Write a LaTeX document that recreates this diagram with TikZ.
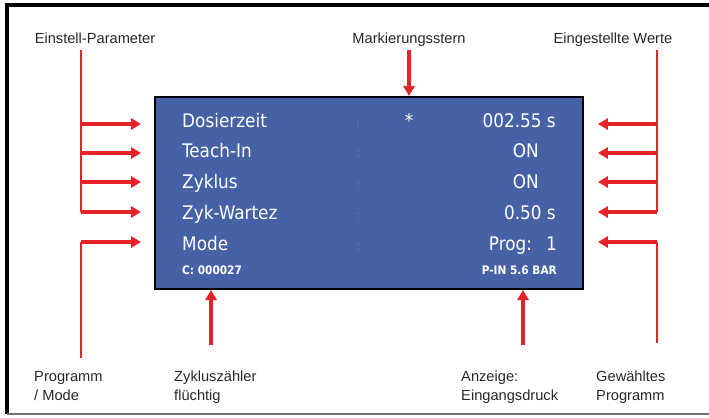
\documentclass[tikz,border=0pt]{standalone}
\usepackage{fontspec}
\setmainfont{Liberation Sans}
\newfontfamily\lcd{DejaVu Sans Condensed}
\usetikzlibrary{arrows.meta}
\definecolor{lcdblau}{RGB}{70,97,166}
\definecolor{pfeilrot}{RGB}{230,35,40}
\definecolor{punkt}{RGB}{100,124,186}
\definecolor{schrift}{RGB}{40,40,40}

\begin{document}
\begin{tikzpicture}[x=0.03cm, y=-0.03cm,
	lbl/.style={text=schrift, font=\fontsize{12.5}{16}\selectfont, inner sep=0pt},
	zeile/.style={text=white, font=\lcd\fontsize{16}{18}\selectfont, inner sep=0pt},
	klein/.style={text=white, font=\lcd\bfseries\fontsize{10}{12}\selectfont, inner sep=0pt},
	pkt/.style={text=punkt, font=\lcd\fontsize{11}{12}\selectfont, inner sep=0pt},
	linie/.style={draw=pfeilrot, line width=1.8pt},
	ast/.style={draw=pfeilrot, line width=2.6pt, -{Triangle[length=8.5pt, width=9.5pt]}},
	disp/.style={draw=black, line width=1.8pt, fill=lcdblau, minimum width=12.84cm, minimum height=5.76cm, inner sep=0pt}]
	\useasboundingbox (0,0) rectangle (709,417);
	% Rahmen
	\draw[line width=2.6pt] (709,5) -- (7,5) -- (7,414);
	\draw[black!55, line width=1.5pt] (7,414) -- (709,414);
	% Anzeige
	\node[disp] (disp) at (369,193) {};
	\node[zeile, anchor=base west] (dz) at (182,127) {Dosierzeit};
	\node[zeile, anchor=base west] (ti) at (182,157) {Teach-In};
	\node[zeile, anchor=base west] (zy) at (182,188) {Zyklus};
	\node[zeile, anchor=base west] (zw) at (182,219) {Zyk-Wartez};
	\node[zeile, anchor=base west] (mo) at (182,250) {Mode};
	\node[zeile, anchor=base east] (wdz) at (556,127) {002.55 s};
	\node[zeile, anchor=base east] (wti) at (539,157) {ON};
	\node[zeile, anchor=base east] (wzy) at (539,188) {ON};
	\node[zeile, anchor=base east] (wzw) at (556,219) {0.50 s};
	\node[zeile, anchor=base east] (wmo) at (557,250) {Prog:\hspace{0.75em}1};
	\node[zeile, anchor=base] (stern) at (409,127) {*};
	\foreach \y [count=\i] in {127,157,188,219,250}
		\node[pkt, anchor=base] (dp\i) at (358,\y) {:};
	\node[klein, anchor=base west] (cz) at (182,274) {C: 000027};
	\node[klein, anchor=base east] (pin) at (557,274) {P-IN 5.6 BAR};
	% Beschriftung
	\node[lbl, anchor=base] (ep) at (95,43) {Einstell-Parameter};
	\node[lbl, anchor=base] (ms) at (409,43) {Markierungsstern};
	\node[lbl, anchor=base] (ew) at (613,43) {Eingestellte Werte};
	\node[lbl, anchor=north west, align=left] (pm) at (34,371) {Programm\\/ Mode};
	\node[lbl, anchor=north west, align=left] (zf) at (174,371) {Zykluszähler\\flüchtig};
	\node[lbl, anchor=north west, align=left] (ae) at (461,371) {Anzeige:\\Eingangsdruck};
	\node[lbl, anchor=north west, align=left] (gp) at (596,371) {Gewähltes\\Programm};
	% links
	\coordinate (lo) at (81,50);
	\coordinate (lu) at (81,212);
	\draw[linie] (lo) -- (lu);
	\foreach \y [count=\i] in {124,153,182,212} {
		\coordinate (la\i) at (81,\y);
		\coordinate (lb\i) at (141,\y);
		\draw[ast] (la\i) -- (lb\i);
	}
	\coordinate (lm) at (81,358);
	\coordinate (lk) at (81,242);
	\coordinate (lp) at (141,242);
	\draw[linie] (lm) -- (lk);
	\draw[ast] (lk) -- (lp);
	% rechts
	\coordinate (ro) at (657,50);
	\coordinate (ru) at (657,212);
	\draw[linie] (ro) -- (ru);
	\foreach \y [count=\i] in {124,153,182,212} {
		\coordinate (ra\i) at (657,\y);
		\coordinate (rb\i) at (598,\y);
		\draw[ast] (ra\i) -- (rb\i);
	}
	\coordinate (rm) at (657,343);
	\coordinate (rk) at (657,242);
	\coordinate (rp) at (598,242);
	\draw[linie] (rm) -- (rk);
	\draw[ast] (rk) -- (rp);
	% oben, unten
	\coordinate (mo1) at (409,50);
	\draw[ast] (mo1) -- (mo1 |- disp.north);
	\coordinate (zu) at (211,345);
	\draw[ast] (zu) -- (zu |- disp.south);
	\coordinate (au) at (523,345);
	\draw[ast] (au) -- (au |- disp.south);
\end{tikzpicture}
\end{document}
